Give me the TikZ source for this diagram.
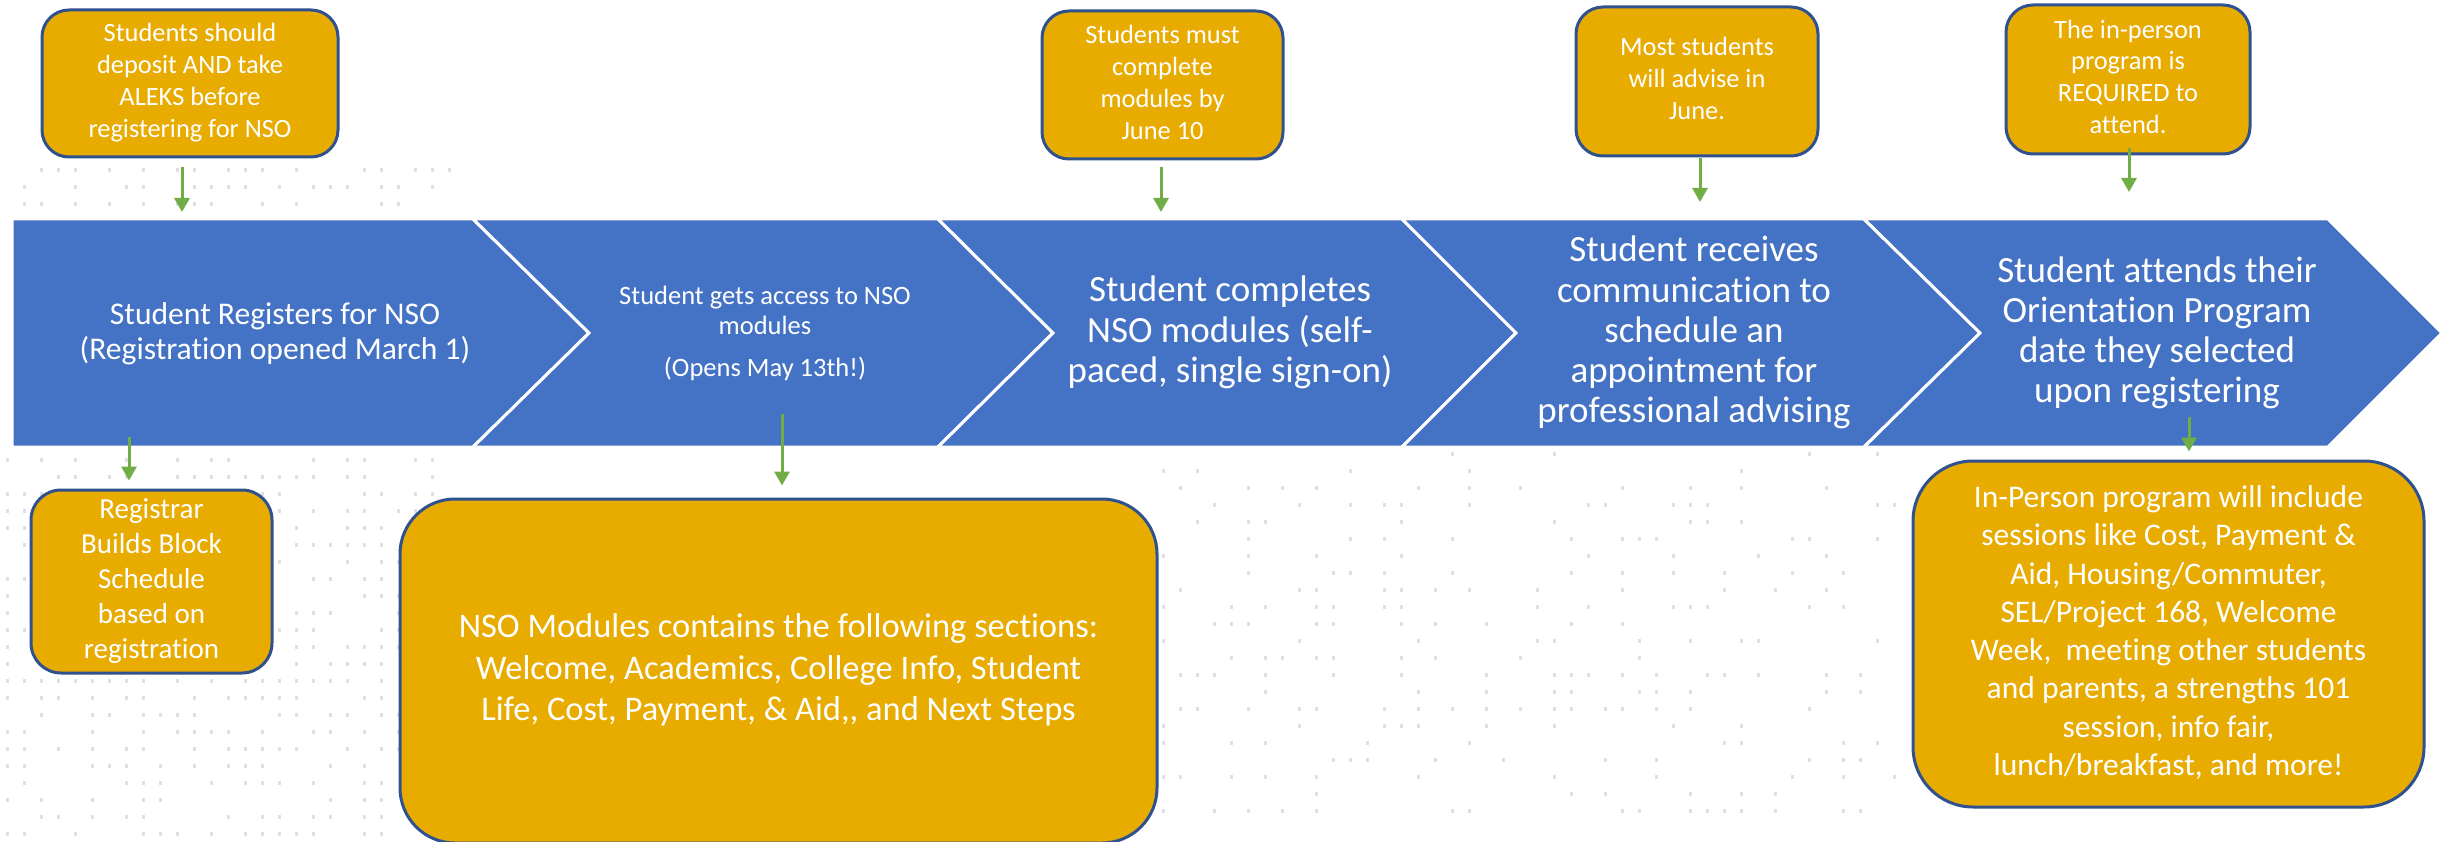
\documentclass[tikz,border=0pt]{standalone}
\usepackage{fontspec}
\setmainfont{Carlito}[Ligatures=NoCommon]
\usetikzlibrary{arrows.meta}
\definecolor{chevblue}{HTML}{4472C4}
\definecolor{goldfill}{HTML}{E8AB00}
\definecolor{boxedge}{HTML}{2F528F}
\definecolor{arrowgreen}{HTML}{70AD47}
\definecolor{speck}{HTML}{DDE0E5}
\newcommand\tstrut{\rule[-0.22em]{0pt}{0.92em}}
\newcommand\myfs[2]{\fontsize{#1}{#2}\selectfont}
\begin{document}
\begin{tikzpicture}[x=1pt,y=-1pt,
  chev/.style={fill=chevblue,draw=white,line width=3pt,line join=miter},
  ctext/.style={text=white,align=center,inner sep=0pt,execute at begin node=\tstrut,execute at end node=\tstrut},
  gbox/.style={draw=boxedge,line width=3pt,fill=goldfill,text=white,align=center,inner sep=0pt,execute at begin node=\tstrut,execute at end node=\tstrut},
  garrow/.style={draw=arrowgreen,line width=3pt,-{Triangle[width=15pt,length=14pt]}},
  speckmark/.style={fill=speck},
]
\useasboundingbox (0,0) rectangle (2450,842);

% faint background texture
\pgfmathsetseed{4242}
\foreach \i in {0,...,25}{
  \foreach \j in {0,...,22}{
    \pgfmathtruncatemacro\keep{rnd<0.55 ? 1 : 0}
    \ifnum\keep=1
      \fill[speckmark] (6+17*\i,458+17*\j) rectangle ++(2.5,4);
    \fi
  }
}
\foreach \i in {0,...,26}{
  \foreach \j in {0,...,2}{
    \pgfmathtruncatemacro\keep{rnd<0.5 ? 1 : 0}
    \ifnum\keep=1
      \fill[speckmark] (6+17*\i,168+17*\j) rectangle ++(2.5,4);
    \fi
  }
}
\foreach \i in {0,...,43}{
  \foreach \j in {0,...,21}{
    \pgfmathtruncatemacro\keep{rnd<0.22 ? 1 : 0}
    \ifnum\keep=1
      \fill[speckmark] (1162+17*\i,452+17*\j) rectangle ++(2.5,4);
    \fi
  }
}

% chevron band
\path[chev] (12,219) -- (473,219) -- (589,333) -- (473,447) -- (12,447) -- cycle;
\path[chev] (473,219) -- (938,219) -- (1053,333) -- (938,447) -- (473,447) -- (589,333) -- cycle;
\path[chev] (938,219) -- (1402,219) -- (1516,333) -- (1402,447) -- (938,447) -- (1053,333) -- cycle;
\path[chev] (1402,219) -- (1864,219) -- (1980,333) -- (1864,447) -- (1402,447) -- (1516,333) -- cycle;
\path[chev] (1864,219) -- (2328,219) -- (2442,333) -- (2328,447) -- (1864,447) -- (1980,333) -- cycle;

% chevron texts
\node[ctext,font=\myfs{31.6}{35}] (c1) at (275,335) {Student Registers for NSO\\(Registration opened March 1)};
\node[ctext,font=\myfs{26.5}{30}] (c2) at (765,334.6) {Student gets access to NSO\\modules\\[12pt](Opens May 13th!)};
\node[ctext,font=\myfs{37}{40.5}] (c3) at (1230,333.6) {Student completes\\NSO modules (self-\\paced, single sign-on)};
\node[ctext,font=\myfs{37}{40.3}] (c4) at (1694,333.6) {Student receives\\communication to\\schedule an\\appointment for\\professional advising};
\node[ctext,font=\myfs{37}{40}] (c5) at (2157,334) {Student attends their\\Orientation Program\\date they selected\\upon registering};

% top boxes
\node[gbox,rounded corners=27pt,minimum width=296pt,minimum height=147pt,font=\myfs{26.4}{32}] (t1) at (190,83.5) {Students should\\deposit AND take\\ALEKS before\\registering for NSO};
\node[gbox,rounded corners=27pt,minimum width=241pt,minimum height=148pt,font=\myfs{26.4}{32}] (t2) at (1162.5,85) {Students must\\complete\\modules by\\June 10};
\node[gbox,rounded corners=27pt,minimum width=242pt,minimum height=149pt,font=\myfs{26.4}{32}] (t3) at (1697,81.5) {Most students\\will advise in\\June.};
\node[gbox,rounded corners=27pt,minimum width=244pt,minimum height=149pt,font=\myfs{26.4}{31.7}] (t4) at (2128,79.5) {The in-person\\program is\\REQUIRED to\\attend.};

% bottom boxes
\node[gbox,rounded corners=30pt,minimum width=241pt,minimum height=183pt,font=\myfs{29}{35}] (b1) at (151.5,581.5) {Registrar\\Builds Block\\Schedule\\based on\\registration};
\node[gbox,rounded corners=55pt,minimum width=757pt,minimum height=344pt,font=\myfs{34.5}{41.5}] (b2) at (778.5,671) {NSO Modules contains the following sections:\\Welcome, Academics, College Info, Student\\Life, Cost, Payment, \& Aid,\kern0pt, and Next Steps};
\node[gbox,rounded corners=60pt,minimum width=511pt,minimum height=346pt,font=\myfs{31.5}{38.3}] (b3) at (2168.5,634) {In-Person program will include\\sessions like Cost, Payment \&\\Aid, Housing/Commuter,\\SEL/Project 168, Welcome\\Week,\ \ meeting other students\\and parents, a strengths 101\\session, info fair,\\lunch/breakfast, and more!};

% arrow end points
\coordinate (a1e) at (182,212);
\coordinate (a2e) at (1161,212);
\coordinate (a3e) at (1700,202);
\coordinate (a4e) at (2129,192);
\coordinate (b1s) at (129,437);
\coordinate (b2s) at (782,414);
\coordinate (b3s) at (2189,417);

\draw[garrow] ([xshift=-8pt,yshift=-9pt]t1.south) -- (a1e);
\draw[garrow] ([xshift=-1.5pt,yshift=-7pt]t2.south) -- (a2e);
\draw[garrow] ([xshift=3pt,yshift=-1pt]t3.south) -- (a3e);
\draw[garrow] ([xshift=1pt,yshift=7pt]t4.south) -- (a4e);
\draw[garrow] (b1s) -- ([xshift=-22.5pt,yshift=8pt]b1.north);
\draw[garrow] (b2s) -- ([xshift=3.5pt,yshift=12pt]b2.north);
\draw[garrow] (b3s) -- ([xshift=20.5pt,yshift=8pt]b3.north);
\end{tikzpicture}
\end{document}
